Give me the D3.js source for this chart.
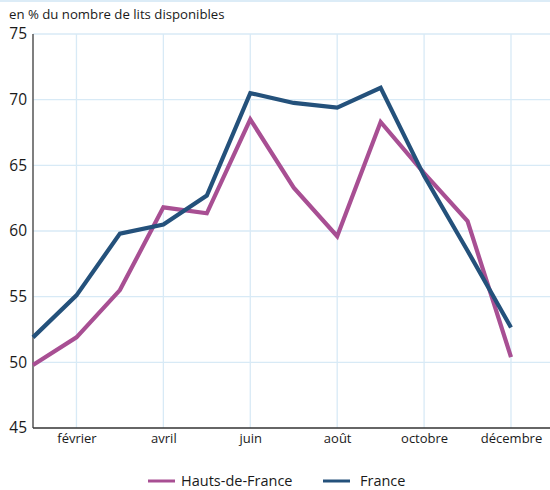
<!DOCTYPE html>
<html>
<head>
<meta charset="utf-8">
<script src="https://cdn.jsdelivr.net/npm/d3@7"></script>
<style>
  body { margin: 0; background: #fff; }
  svg text { font-family: "Open Sans", sans-serif; fill: #1a1a1a; }
</style>
</head>
<body>
<div id="chart"></div>
<script>
// data
var months = ["janvier", "février", "mars", "avril", "mai", "juin", "juillet", "août", "septembre", "octobre", "novembre", "décembre"];
var hautsDeFrance = [49.8, 51.9, 55.5, 61.8, 61.35, 68.5, 63.3, 59.6, 68.3, 64.4, 60.75, 50.4];
var france = [51.9, 55.1, 59.8, 60.5, 62.7, 70.5, 69.75, 69.4, 70.9, 64.2, 58.5, 52.65];
var yTicks = [45, 50, 55, 60, 65, 70, 75];
var xTickMonths = ["février", "avril", "juin", "août", "octobre", "décembre"];

var width = 550, height = 490;
var plotLeft = 33, plotRight = 511, plotTop = 34, plotBottom = 428;

var svg = d3.select("#chart").append("svg")
  .attr("width", width)
  .attr("height", height);

// light band on top
svg.append("rect")
  .attr("x", 0).attr("y", 0)
  .attr("width", width).attr("height", 2)
  .attr("fill", "#dcecf7");

var xScale = d3.scalePoint()
  .domain(months)
  .range([plotLeft, plotRight]);

var yScale = d3.scaleLinear()
  .domain([45, 75])
  .range([plotBottom, plotTop]);

// grid
svg.append("g").selectAll("line").data(yTicks.slice(1)).enter().append("line")
  .attr("x1", plotLeft).attr("x2", width)
  .attr("y1", function(d) { return yScale(d); })
  .attr("y2", function(d) { return yScale(d); })
  .attr("stroke", "#d8eaf6").attr("stroke-width", 1.3);

svg.append("g").selectAll("line").data(xTickMonths).enter().append("line")
  .attr("x1", function(d) { return xScale(d); })
  .attr("x2", function(d) { return xScale(d); })
  .attr("y1", plotTop).attr("y2", plotBottom)
  .attr("stroke", "#d8eaf6").attr("stroke-width", 1.3);

// axes
var yAxis = d3.axisLeft(yScale).tickValues(yTicks).tickSize(0).tickPadding(6);
var yg = svg.append("g")
  .attr("transform", "translate(" + plotLeft + ",0)")
  .call(yAxis);
yg.select(".domain").remove();
yg.selectAll("text").style("font-size", "15.5px").attr("fill", "#1a1a1a");

var xAxis = d3.axisBottom(xScale).tickValues(xTickMonths).tickSize(0).tickPadding(6);
var xg = svg.append("g")
  .attr("transform", "translate(0," + plotBottom + ")")
  .call(xAxis);
xg.select(".domain").remove();
xg.selectAll("text").style("font-size", "13px").attr("fill", "#1a1a1a");

svg.append("line")
  .attr("x1", plotLeft).attr("x2", plotLeft)
  .attr("y1", plotTop).attr("y2", plotBottom)
  .attr("stroke", "#555").attr("stroke-width", 1.5);
svg.append("line")
  .attr("x1", plotLeft).attr("x2", width)
  .attr("y1", plotBottom).attr("y2", plotBottom)
  .attr("stroke", "#333").attr("stroke-width", 1.5);

// lines
var line = d3.line()
  .x(function(d, i) { return xScale(months[i]); })
  .y(function(d) { return yScale(d); });

var series = [
  { name: "Hauts-de-France", values: hautsDeFrance, color: "#a84f93" },
  { name: "France", values: france, color: "#24517b" }
];

series.forEach(function(s) {
  svg.append("path")
    .datum(s.values)
    .attr("d", line)
    .attr("fill", "none")
    .attr("stroke", s.color)
    .attr("stroke-width", 4.2)
    .attr("stroke-linejoin", "miter");
});

// title
svg.append("text")
  .attr("x", 9).attr("y", 19)
  .style("font-size", "13.2px")
  .text("en % du nombre de lits disponibles");

// legend
var legendX = [148, 323];
var legendGap = [33, 37];
series.forEach(function(s, i) {
  var g = svg.append("g").attr("transform", "translate(" + legendX[i] + ",481)");
  g.append("line")
    .attr("x1", 0).attr("x2", 27)
    .attr("y1", 0).attr("y2", 0)
    .attr("stroke", s.color).attr("stroke-width", 3);
  g.append("text")
    .attr("x", legendGap[i]).attr("y", 5)
    .style("font-size", "14.5px")
    .text(s.name);
});
</script>
</body>
</html>
